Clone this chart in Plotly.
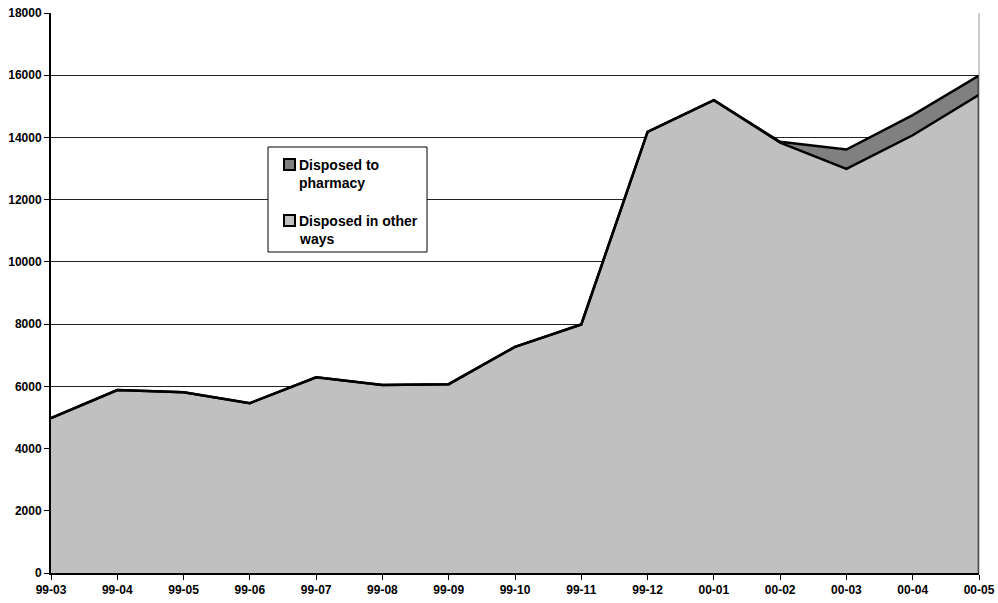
import plotly.graph_objects as go

months = ["99-03", "99-04", "99-05", "99-06", "99-07", "99-08", "99-09", "99-10",
          "99-11", "99-12", "00-01", "00-02", "00-03", "00-04", "00-05"]
other_ways = [4980, 5880, 5810, 5460, 6290, 6040, 6070, 7270,
              7990, 14180, 15200, 13830, 12990, 14070, 15370]
pharmacy = [0, 0, 0, 0, 0, 0, 0, 0,
            0, 0, 0, 30, 620, 650, 620]
y_ticks = list(range(0, 18001, 2000))
series_names = ["Disposed to<br>pharmacy", "Disposed in other<br>ways"]

LIGHT = "#C0C0C0"
DARK = "#808080"
totals = [a + b for a, b in zip(other_ways, pharmacy)]

FAMILY = "Liberation Sans, Arial"
tick_font = dict(family=FAMILY, size=12, color="black", weight="bold")
legend_font = dict(family=FAMILY, size=14, color="black", weight="bold")

W, H = 998, 603
ML, MR, MT, MB = 51, 19, 13, 30
PW, PH = W - ML - MR, H - MT - MB


def px(x):
    return (x - ML) / PW


def py(y):
    return (H - MB - y) / PH


fig = go.Figure()
fig.add_trace(go.Scatter(
    x=months, y=other_ways, stackgroup="s", mode="lines",
    line=dict(color="black", width=2.5), fillcolor=LIGHT,
    showlegend=False, hoverinfo="skip"))
fig.add_trace(go.Scatter(
    x=months, y=pharmacy, stackgroup="s", mode="lines",
    line=dict(color="black", width=2.5), fillcolor=DARK,
    showlegend=False, hoverinfo="skip"))
# closing edge at the last month
fig.add_trace(go.Scatter(
    x=[months[-1], months[-1]], y=[0, totals[-1]], mode="lines",
    line=dict(color="black", width=2.5), showlegend=False, hoverinfo="skip"))

# legend box, swatches and labels
shapes = [
    dict(type="line", xref="paper", yref="paper", x0=1, x1=1, y0=0, y1=1,
         line=dict(color="#999999", width=1)),
    dict(type="rect", xref="paper", yref="paper",
         x0=px(268), x1=px(427), y0=py(252), y1=py(147),
         fillcolor="white", line=dict(color="black", width=1), layer="above"),
]
annotations = []
item_tops = [158, 214]
for top, name, color in zip(item_tops, series_names, [DARK, LIGHT]):
    shapes.append(dict(type="rect", xref="paper", yref="paper",
                       x0=px(284), x1=px(295), y0=py(top + 12), y1=py(top + 1),
                       fillcolor=color, line=dict(color="black", width=2), layer="above"))
    for i, line_text in enumerate(name.split("<br>")):
        annotations.append(dict(
            xref="paper", yref="paper", x=px(297), y=py(top + 6.5 + 18.5 * i),
            xanchor="left", yanchor="middle", showarrow=False,
            text=line_text, font=legend_font))

fig.update_layout(
    width=W, height=H,
    margin=dict(l=ML, r=MR, t=MT, b=MB),
    paper_bgcolor="white", plot_bgcolor="white",
    showlegend=False,
    xaxis=dict(
        type="category", range=[0, len(months) - 1], automargin=False,
        showgrid=False, showline=True, linecolor="black", linewidth=2,
        ticks="outside", ticklen=5, tickcolor="black", tickwidth=1,
        tickfont=tick_font, tickangle=0, zeroline=False,
    ),
    yaxis=dict(
        range=[0, 18000], tickvals=y_ticks, tickformat="d", automargin=False,
        showgrid=True, gridcolor="#222222", gridwidth=1,
        showline=True, linecolor="black", linewidth=2,
        ticks="outside", ticklen=5, tickcolor="black", tickwidth=1,
        tickfont=tick_font, zeroline=False,
    ),
    shapes=shapes,
    annotations=annotations,
)

fig.write_html("out.html")
